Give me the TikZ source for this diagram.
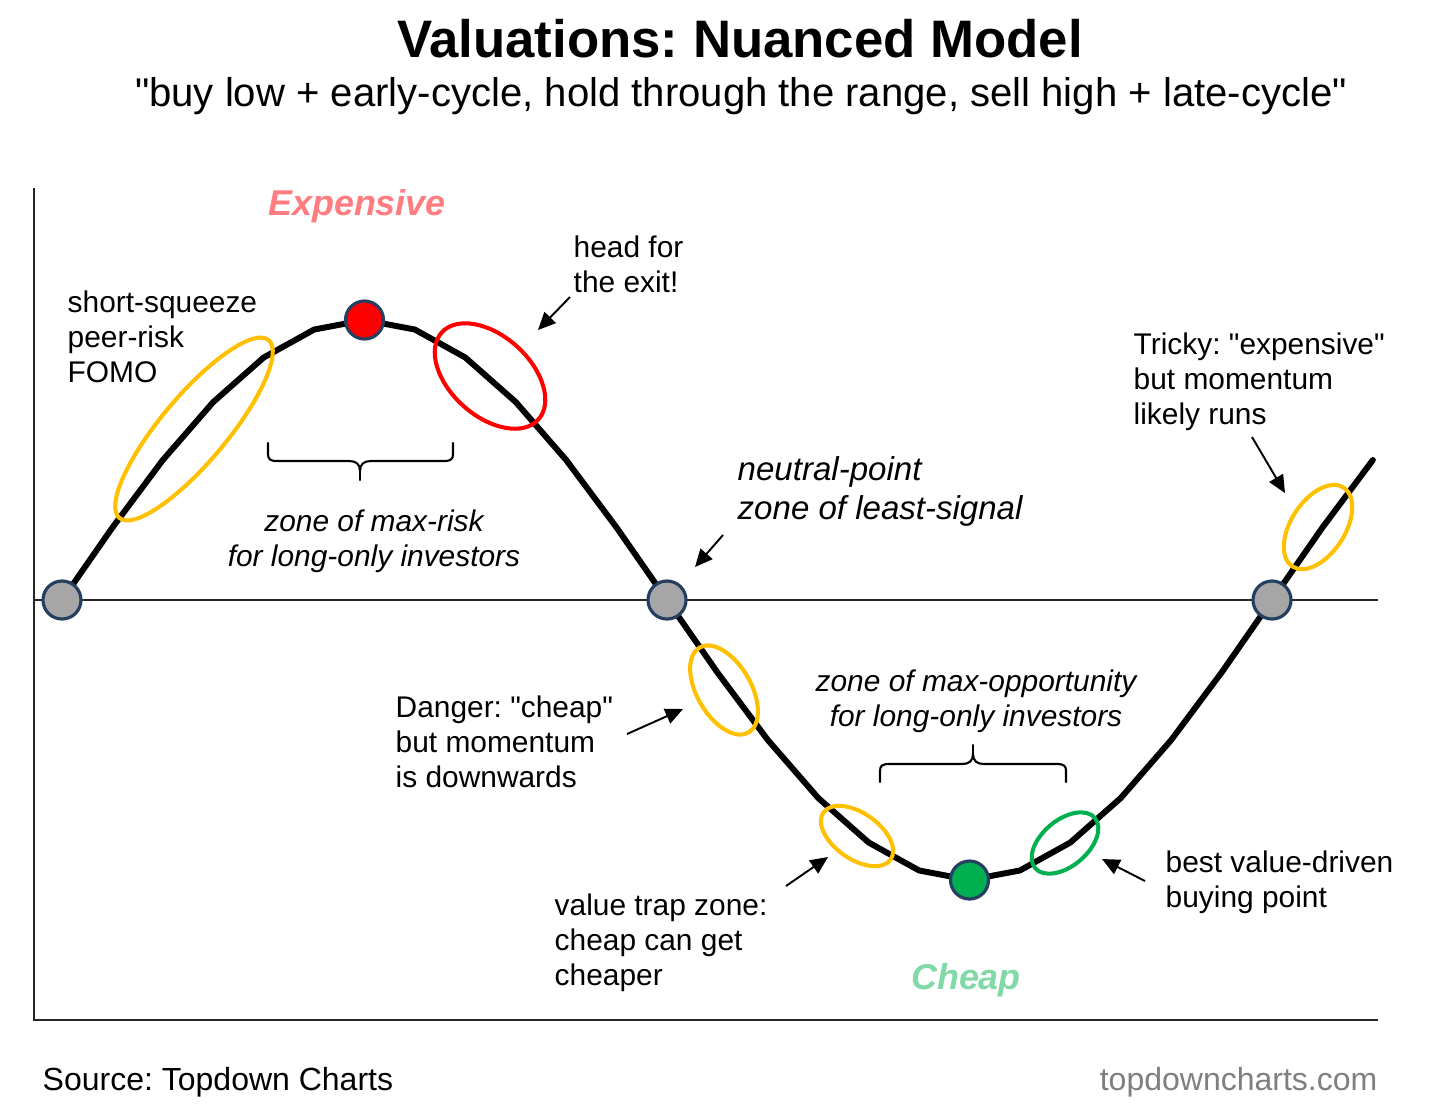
\documentclass[tikz,border=0pt]{standalone}
\usepackage{fontspec}
\setmainfont{Liberation Sans}[Ligatures=TeXOff]
\usetikzlibrary{calc,positioning,arrows.meta,shapes.geometric}
\definecolor{amber}{HTML}{FFC000}
\definecolor{hot}{HTML}{FF0000}
\definecolor{cool}{HTML}{00B050}
\definecolor{dot}{HTML}{A6A6A6}
\definecolor{rim}{HTML}{243F60}
\definecolor{dear}{HTML}{FF7C80}
\definecolor{cheap}{HTML}{80D9A6}
\definecolor{site}{HTML}{7F7F7F}
\frenchspacing

\begin{document}
\begin{tikzpicture}[x=0.01cm, y=-0.01cm,
    txt/.style={font=\fontsize{8.5}{10}\selectfont, align=left, anchor=north west, inner sep=0pt},
    zone/.style={font=\fontsize{8.5}{10}\selectfont\itshape, align=center, anchor=north, inner sep=0pt},
    pt/.style={circle, draw=rim, line width=0.9pt, minimum size=0.38cm, inner sep=0pt},
    ring/.style={ellipse, draw=amber, line width=1.15pt, inner sep=0pt},
    ar/.style={-{Triangle[length=5pt,width=4.5pt]}, line width=0.55pt},
    brc/.style={line width=0.6pt, line cap=round}]
  \fill[white] (0,0) rectangle (1437,1105);
  \useasboundingbox (0,0) rectangle (1437,1105);
  % title
  \node[font=\fontsize{15}{18}\selectfont\bfseries, anchor=base, inner sep=0pt] (title) at (740,57) {Valuations: Nuanced Model};
  \node[font=\fontsize{11.4}{14}\selectfont, anchor=base, inner sep=0pt] (sub) at (741,106) {"buy low + early-cycle, hold through the range, sell high + late-cycle"};
  % axes
  \draw[line width=0.6pt, black!85] (34,188) -- (34,1020) -- (1378,1020);
  \draw[line width=0.5pt, black!85] (34,600) -- (1378,600);
  % cycle
  \draw[line width=1.7pt, line join=round, line cap=round] plot[domain=0:390, samples=27] ({62+\x*3.36111},{600-280*sin(\x)});
  \node[pt, fill=dot] (z1) at (62,600) {};
  \node[pt, fill=dot] (z2) at (667,600) {};
  \node[pt, fill=dot] (z3) at (1272,600) {};
  \node[pt, fill=hot] (hi) at (364.5,320) {};
  \node[pt, fill=cool] (lo) at (969.5,880) {};
  % rings
  \node[ring, minimum width=2.32cm, minimum height=0.66cm, rotate=50] (e1) at (194,429) {};
  \node[ring, draw=hot, minimum width=1.30cm, minimum height=0.80cm, rotate=-42] (e2) at (490,376) {};
  \node[ring, minimum width=0.98cm, minimum height=0.54cm, rotate=-60] (e3) at (724,690) {};
  \node[ring, minimum width=0.82cm, minimum height=0.46cm, rotate=-35] (e4) at (857,836) {};
  \node[ring, draw=cool, minimum width=0.78cm, minimum height=0.46cm, rotate=40] (e5) at (1065,843) {};
  \node[ring, minimum width=0.94cm, minimum height=0.54cm, rotate=57] (e6) at (1318,527) {};
  % labels
  \node[font=\fontsize{10.2}{12}\selectfont\bfseries\itshape, text=dear, anchor=base, inner sep=0pt] (dearlbl) at (357,215) {Expensive};
  \node[font=\fontsize{10.2}{12}\selectfont\bfseries\itshape, text=cheap, anchor=base, inner sep=0pt] (cheaplbl) at (966,989) {Cheap};
  \node[txt] (sq) at (67,290) {short-squeeze\\peer-risk\\FOMO};
  \node[txt] (exit) at (573,235) {head for\\the exit!};
  \node[txt] (tricky) at (1133,332) {Tricky: "expensive"\\but momentum\\likely runs};
  \node[txt] (danger) at (395,695) {Danger: "cheap"\\but momentum\\is downwards};
  \node[txt] (trap) at (554,893) {value trap zone:\\cheap can get\\cheaper};
  \node[txt] (best) at (1165,850) {best value-driven\\buying point};
  \node[zone] (risk) at (374,509) {zone of max-risk\\for long-only investors};
  \node[zone] (opp) at (976,669) {zone of max-opportunity\\for long-only investors};
  \node[txt, font=\fontsize{9.4}{11.1}\selectfont\itshape] (neutral) at (737,456) {neutral-point\\zone of least-signal};
  % braces
  \draw[brc] (268,443) -- (268,454) .. controls (268,459) and (270,461) .. (277,461) -- (349,461) .. controls (356,461) and (360,464) .. (360,471) .. controls (360,464) and (364,461) .. (371,461) -- (444,461) .. controls (451,461) and (453,459) .. (453,454) -- (453,443);
  \draw[brc] (360,471) -- (360,480);
  \draw[brc] (880,782) -- (880,771) .. controls (880,766) and (882,764) .. (889,764) -- (962,764) .. controls (969,764) and (973,761) .. (973,754) .. controls (973,761) and (977,764) .. (984,764) -- (1057,764) .. controls (1064,764) and (1066,766) .. (1066,771) -- (1066,782);
  \draw[brc] (973,754) -- (973,745);
  % pointers
  \coordinate (a1) at (570,297); \coordinate (b1) at (538,330);
  \coordinate (a2) at (723,535); \coordinate (b2) at (695,567);
  \coordinate (a3) at (627,734); \coordinate (b3) at (683,709);
  \coordinate (a4) at (786,886); \coordinate (b4) at (828,857);
  \coordinate (a5) at (1145,881); \coordinate (b5) at (1102,859);
  \coordinate (a6) at (1252,437); \coordinate (b6) at (1285,493);
  \foreach \a/\b in {a1/b1,a2/b2,a3/b3,a4/b4,a5/b5,a6/b6}{\draw[ar] (\a) -- (\b);}
  % footer
  \node[font=\fontsize{9.1}{11}\selectfont, anchor=base west, inner sep=0pt] (src) at (42,1090) {Source: Topdown Charts};
  \node[font=\fontsize{9.1}{11}\selectfont, text=site, anchor=base east, inner sep=0pt] (web) at (1378,1090) {topdowncharts.com};
\end{tikzpicture}
\end{document}
